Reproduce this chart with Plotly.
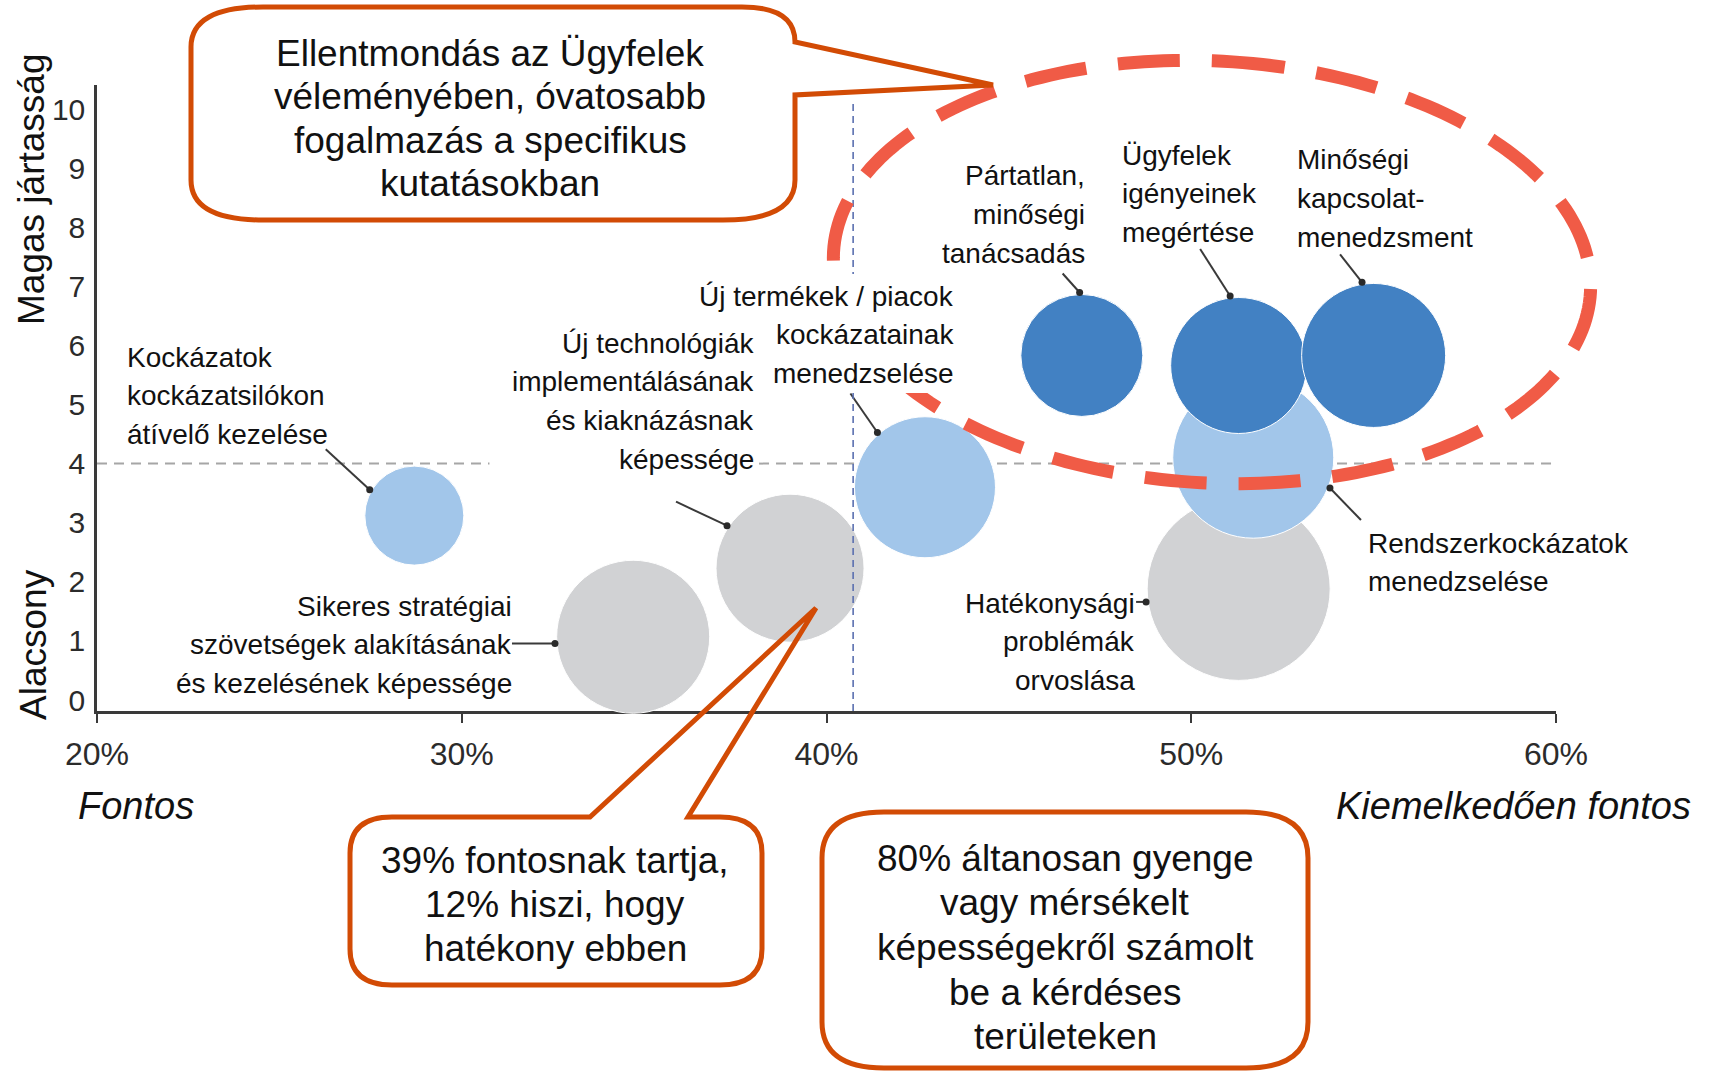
import math
import plotly.graph_objects as go

# ---------------- data ----------------
labels = [
    "Kockázatok<br>kockázatsilókon<br>átívelő kezelése",
    "Sikeres stratégiai<br>szövetségek alakításának<br>és kezelésének képessége",
    "Új technológiák<br>implementálásának<br>és kiaknázásnak<br>képessége",
    "Új termékek / piacok<br>kockázatainak<br>menedzselése",
    "Pártatlan,<br>minőségi<br>tanácsadás",
    "Ügyfelek<br>igényeinek<br>megértése",
    "Minőségi<br>kapcsolat-<br>menedzsment",
    "Rendszerkockázatok<br>menedzselése",
    "Hatékonysági<br>problémák<br>orvoslása",
]
importance = [28.7, 34.7, 39.0, 42.7, 47.0, 51.3, 55.0, 51.7, 51.3]   # % "kiemelkedően fontos"
skill = [3.12, 1.07, 2.23, 3.60, 5.83, 5.66, 5.83, 4.10, 1.88]        # jártasság 0-10
bubble_size = [49.5, 76.5, 74, 70.5, 61, 68, 72, 80.5, 91.5]          # relative bubble magnitude
group = ["light", "gray", "gray", "light", "dark", "dark", "dark", "light", "gray"]

x_ticks = [20, 30, 40, 50, 60]
x_tick_text = ["20%", "30%", "40%", "50%", "60%"]
y_ticks = list(range(0, 11))

ref_x = 40.73     # vertical reference line
ref_y = 4         # horizontal reference line

callout_texts = [
    "Ellentmondás az Ügyfelek<br>véleményében, óvatosabb<br>fogalmazás a specifikus<br>kutatásokban",
    "39% fontosnak tartja,<br>12% hiszi, hogy<br>hatékony ebben",
    "80% áltanosan gyenge<br>vagy mérsékelt<br>képességekről számolt<br>be a kérdéses<br>területeken",
]

# ---------------- layout geometry ----------------
W, H = 1713, 1071
ML, MR, MT, MB = 97, 157, 85, 360
PW, PH = W - ML - MR, H - MT - MB
XR = [20, 60]
YR = [-0.186, 10.406]
KX = PW / (XR[1] - XR[0])
KY = PH / (YR[1] - YR[0])


def xp(px):
    return (px - ML) / PW


def yp(py):
    return (H - MB - py) / PH


def P(px, py):
    return f"{xp(px):.5f},{yp(py):.5f}"


colors = {"gray": "#D1D2D4", "light": "#A2C6EA", "dark": "#4281C3"}
LABEL_FONT = "Liberation Sans Narrow, Liberation Sans, Arial, sans-serif"
BOX_FONT = "Liberation Sans, Arial, sans-serif"
ORANGE = "#D24B05"
RED = "#F05B46"

fig = go.Figure()

# bubbles, drawn gray -> light -> dark
for g in ["gray", "light", "dark"]:
    idx = [i for i in range(len(labels)) if group[i] == g]
    fig.add_trace(go.Scatter(
        x=[importance[i] for i in idx],
        y=[skill[i] for i in idx],
        mode="markers",
        marker=dict(size=[2 * bubble_size[i] for i in idx], sizemode="diameter",
                    color=colors[g], opacity=1, line=dict(color="white", width=1)),
        text=[labels[i].replace("<br>", " ") for i in idx],
        hoverinfo="text",
        cliponaxis=False,
        showlegend=False,
    ))

# leader lines (angle on bubble edge, tail offset in px)
leaders = [(150, -44, -40.5), (185, -43, 0), (146, -51, -24), (131, -27, -39),
           (92, -17, -19), (97, -30, -47), (99, -22, -28), (-21.6, 31, 32), (188, -10, 0)]
lx, ly, dx, dy = [], [], [], []
for i, (ang, ox, oy) in enumerate(leaders):
    a = math.radians(ang)
    r = bubble_size[i] + 2
    d_x = importance[i] + r * math.cos(a) / KX
    d_y = skill[i] + r * math.sin(a) / KY
    t_x = d_x + ox / KX
    t_y = d_y - oy / KY
    lx += [t_x, d_x, None]
    ly += [t_y, d_y, None]
    dx.append(d_x)
    dy.append(d_y)
fig.add_trace(go.Scatter(x=lx, y=ly, mode="lines", line=dict(color="#3a3a3a", width=2),
                         hoverinfo="skip", showlegend=False, cliponaxis=False))
fig.add_trace(go.Scatter(x=dx, y=dy, mode="markers", marker=dict(color="#2a2a2a", size=7),
                         hoverinfo="skip", showlegend=False, cliponaxis=False))

shapes = []
# horizontal reference (below bubbles), interrupted by a label
for a0, a1 in [(XR[0], 30.76), (38.15, 60.9)]:
    shapes.append(dict(type="line", xref="x", yref="y", x0=a0, x1=a1, y0=ref_y, y1=ref_y,
                       line=dict(color="#A6A6A6", width=2, dash="10px,7px"), layer="below"))
# vertical reference
shapes.append(dict(type="line", xref="x", yref="y", x0=ref_x, x1=ref_x, y0=YR[0], y1=10.1,
                   line=dict(color="#5B70B0", width=1.6, dash="7px,5px"), layer="above"))

# red dashed ellipse (slightly rotated)
cx, cy, erx, ery, rot = 1212, 272, 379, 211, math.radians(3)
pts = []
N = 240
for k in range(N):
    t = 2 * math.pi * k / N - math.pi / 2
    ex, ey = erx * math.cos(t), ery * math.sin(t)
    px_ = cx + ex * math.cos(rot) - ey * math.sin(rot)
    py_ = cy + ex * math.sin(rot) + ey * math.cos(rot)
    pts.append(P(px_, py_))
ell = "M" + " L".join(pts) + " Z"
shapes.append(dict(type="path", xref="paper", yref="paper", path=ell,
                   line=dict(color=RED, width=13, dash="62px,32px"), layer="above"))

# white background behind the "Új termékek" label (hides the lines under it)
shapes.append(dict(type="rect", xref="paper", yref="paper", x0=xp(700), x1=xp(960),
                   y0=yp(393), y1=yp(274), fillcolor="white", line=dict(width=0), layer="above"))

# callout 1
x0, y0, x1, y1, rx, ry = 191, 7, 795, 220, 72, 40
c1 = (f"M{P(x0 + rx, y0)} L{P(742, y0)} Q{P(x1, y0)} {P(x1, 42)} L{P(993, 85)} L{P(x1, 95)} "
      f"L{P(x1, y1 - ry)} Q{P(x1, y1)} {P(x1 - rx, y1)} L{P(x0 + rx, y1)} Q{P(x0, y1)} {P(x0, y1 - ry)} "
      f"L{P(x0, y0 + ry)} Q{P(x0, y0)} {P(x0 + rx, y0)} Z")
# callout 2
x0, y0, x1, y1, rx, ry = 350, 817, 762, 985, 42, 36
c2 = (f"M{P(x0 + rx, y0)} L{P(590, y0)} L{P(816, 608)} L{P(688, y0)} L{P(x1 - rx, y0)} "
      f"Q{P(x1, y0)} {P(x1, y0 + ry)} L{P(x1, y1 - ry)} Q{P(x1, y1)} {P(x1 - rx, y1)} "
      f"L{P(x0 + rx, y1)} Q{P(x0, y1)} {P(x0, y1 - ry)} L{P(x0, y0 + ry)} Q{P(x0, y0)} {P(x0 + rx, y0)} Z")
# callout 3
x0, y0, x1, y1, rx, ry = 822, 812, 1308, 1068, 62, 46
c3 = (f"M{P(x0 + rx, y0)} L{P(x1 - rx, y0)} Q{P(x1, y0)} {P(x1, y0 + ry)} L{P(x1, y1 - ry)} "
      f"Q{P(x1, y1)} {P(x1 - rx, y1)} L{P(x0 + rx, y1)} Q{P(x0, y1)} {P(x0, y1 - ry)} "
      f"L{P(x0, y0 + ry)} Q{P(x0, y0)} {P(x0 + rx, y0)} Z")
for c in (c1, c2, c3):
    shapes.append(dict(type="path", xref="paper", yref="paper", path=c,
                       line=dict(color=ORANGE, width=5), fillcolor="rgba(0,0,0,0)", layer="above"))

annotations = []


def add_lines(text, px_, y_first, spacing, side, font):
    for j, line in enumerate(text.split("<br>")):
        annotations.append(dict(x=xp(px_), y=yp(y_first + j * spacing), xref="paper", yref="paper",
                                text=line, showarrow=False, xanchor=side, yanchor="middle",
                                align=side, font=font))


lab_font = dict(family=LABEL_FONT, size=28, color="#111111")
# bubble labels: (anchor px, first-line centre px, side)
label_pos = [
    (124.5, 357, "left"),
    (513.5, 606, "right"),
    (756, 343, "right"),
    (956, 296, "right"),
    (1087, 176, "right"),
    (1120, 155, "left"),
    (1295, 160, "left"),
    (1365.7, 543, "left"),
    (1137, 603, "right"),
]
for i, (px_, py_, side) in enumerate(label_pos):
    add_lines(labels[i], px_, py_, 38.7, side, lab_font)

# callout texts
box_font = dict(family=BOX_FONT, size=37, color="#111111")
for txt, (px_, py_, sp) in zip(callout_texts, [(490, 53, 43.5), (555, 860, 44), (1065, 858, 44.7)]):
    add_lines(txt, px_, py_, sp, "center", box_font)

# axis titles
annotations.append(dict(x=xp(31), y=yp(190), xref="paper", yref="paper", text="Magas jártasság",
                        textangle=-90, showarrow=False, xanchor="center", yanchor="middle",
                        font=dict(family=LABEL_FONT, size=37, color="#111111")))
annotations.append(dict(x=xp(33), y=yp(645), xref="paper", yref="paper", text="Alacsony",
                        textangle=-90, showarrow=False, xanchor="center", yanchor="middle",
                        font=dict(family=LABEL_FONT, size=37, color="#111111")))
annotations.append(dict(x=xp(76), y=yp(806), xref="paper", yref="paper", text="<i>Fontos</i>",
                        showarrow=False, xanchor="left", yanchor="middle",
                        font=dict(family=LABEL_FONT, size=38, color="#111111")))
annotations.append(dict(x=xp(1693), y=yp(806), xref="paper", yref="paper",
                        text="<i>Kiemelkedően fontos</i>",
                        showarrow=False, xanchor="right", yanchor="middle",
                        font=dict(family=LABEL_FONT, size=38, color="#111111")))

fig.update_layout(
    width=W, height=H,
    margin=dict(l=ML, r=MR, t=MT, b=MB, pad=0),
    paper_bgcolor="white", plot_bgcolor="white",
    showlegend=False,
    shapes=shapes,
    annotations=annotations,
    xaxis=dict(range=XR, tickvals=x_ticks, ticktext=x_tick_text, showgrid=False, zeroline=False,
               showline=True, linecolor="#3a3a3a", linewidth=2.5, ticks="outside", ticklen=9,
               tickwidth=2, tickcolor="#3a3a3a", ticklabelstandoff=4, layer="below traces",
               tickfont=dict(family=LABEL_FONT, size=32, color="#2b2b2b"), fixedrange=True),
    yaxis=dict(range=YR, tickvals=y_ticks, showgrid=False, zeroline=False,
               showline=True, linecolor="#3a3a3a", linewidth=2.5, ticks="", ticklabelstandoff=3,
               layer="below traces",
               tickfont=dict(family=LABEL_FONT, size=30, color="#2b2b2b"), fixedrange=True),
)

fig.write_html("out.html", config={"displayModeBar": False},
               post_script="document.body.style.margin='0px';")
